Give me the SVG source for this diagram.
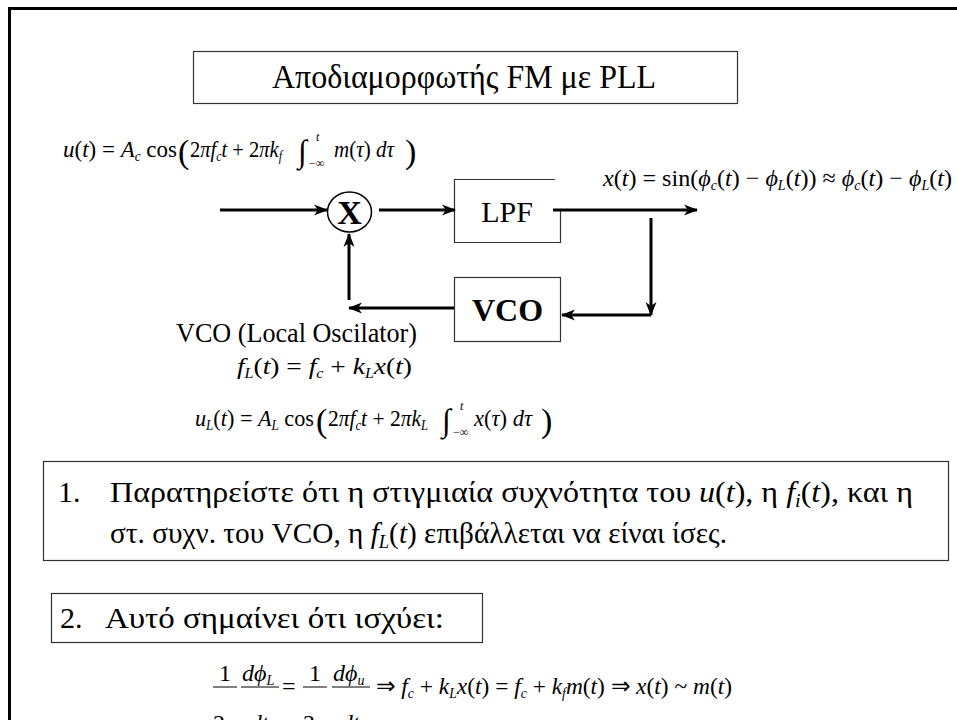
<svg xmlns="http://www.w3.org/2000/svg" width="957" height="720" viewBox="0 0 957 720">
  <defs>
    <style>
      text { font-family: "Liberation Serif", "Times New Roman", serif; fill: #000; }
      .t { font-size: 30px; }
      .m { font-size: 24px; }
      .i { font-style: italic; }
      .b { font-weight: bold; }
      .box { fill: #fff; stroke: #333; stroke-width: 1.2; }
      .wire { fill: none; stroke: #000; stroke-width: 3; }
    </style>
    <marker id="arrow" viewBox="0 0 14 12" refX="13" refY="6" markerUnits="userSpaceOnUse" markerWidth="14" markerHeight="12" orient="auto">
      <path d="M0,0.5 L14,6 L0,11.5 L4,6 Z" fill="#000"/>
    </marker>
  </defs>

  <!-- page frame -->
  <rect x="9.5" y="8.5" width="960" height="730" fill="#fff" stroke="#000" stroke-width="3"/>

  <!-- title -->
  <g id="title">
    <rect class="box" x="193.5" y="51.5" width="544" height="52"/>
    <text x="272" y="88" font-size="33" textLength="384" lengthAdjust="spacingAndGlyphs">Αποδιαμορφωτής FM με PLL</text>
  </g>

  <!-- input signal -->
  <g id="eq-input" class="m">
    <text x="63" y="157" textLength="114" lengthAdjust="spacingAndGlyphs"><tspan class="i">u</tspan>(<tspan class="i">t</tspan>) = <tspan class="i">A</tspan><tspan class="i" font-size="14" dy="4">c</tspan><tspan dy="-4"> cos</tspan></text>
    <text x="178" y="163" font-size="34">(</text>
    <text x="190" y="157" textLength="92" lengthAdjust="spacingAndGlyphs">2<tspan class="i">πf</tspan><tspan class="i" font-size="14" dy="4">c</tspan><tspan class="i" dy="-4">t</tspan> + 2<tspan class="i">πk</tspan><tspan class="i" font-size="14" dy="4">f</tspan></text>
    <text x="298" y="162" font-size="32">∫</text>
    <text x="316" y="141" font-size="12" class="i">t</text>
    <text x="309" y="167" font-size="12">−∞</text>
    <text x="334" y="157" textLength="60" lengthAdjust="spacingAndGlyphs"><tspan class="i">m</tspan>(<tspan class="i">τ</tspan>) <tspan class="i">dτ</tspan></text>
    <text x="405" y="163" font-size="34">)</text>
  </g>

  <!-- output signal -->
  <g id="eq-output" class="m">
    <text x="603" y="186" textLength="349" lengthAdjust="spacingAndGlyphs"><tspan class="i">x</tspan>(<tspan class="i">t</tspan>) = sin(<tspan class="i">ϕ</tspan><tspan class="i" font-size="14" dy="4">c</tspan><tspan dy="-4">(</tspan><tspan class="i">t</tspan>) − <tspan class="i">ϕ</tspan><tspan class="i" font-size="14" dy="4">L</tspan><tspan dy="-4">(</tspan><tspan class="i">t</tspan>)) ≈ <tspan class="i">ϕ</tspan><tspan class="i" font-size="14" dy="4">c</tspan><tspan dy="-4">(</tspan><tspan class="i">t</tspan>) − <tspan class="i">ϕ</tspan><tspan class="i" font-size="14" dy="4">L</tspan><tspan dy="-4">(</tspan><tspan class="i">t</tspan>)</text>
  </g>

  <!-- mixer -->
  <g id="mixer">
    <ellipse cx="349.5" cy="212" rx="22" ry="20" fill="#fff" stroke="#000" stroke-width="1.5"/>
    <text x="349.5" y="224" text-anchor="middle" font-size="34" class="b">X</text>
  </g>

  <!-- loop filter -->
  <g id="lpf">
    <path d="M555,179.5 H454.5 V242.5 H560.5 V209" fill="none" stroke="#333" stroke-width="1.2"/>
    <text x="507" y="222" text-anchor="middle" font-size="30">LPF</text>
  </g>

  <!-- oscillator -->
  <g id="vco">
    <rect class="box" x="454.5" y="277.5" width="106" height="64"/>
    <text x="507.5" y="321" text-anchor="middle" font-size="32" class="b">VCO</text>
  </g>

  <!-- connectors -->
  <g id="connectors" class="wire">
    <line x1="220" y1="210" x2="327" y2="210" marker-end="url(#arrow)"/>
    <line x1="379" y1="210" x2="455" y2="210" marker-end="url(#arrow)"/>
    <line x1="553" y1="210" x2="697" y2="210" marker-end="url(#arrow)"/>
    <line x1="651" y1="218" x2="651" y2="315" marker-end="url(#arrow)"/>
    <line x1="651" y1="315" x2="562" y2="315" marker-end="url(#arrow)"/>
    <line x1="454" y1="308" x2="349" y2="308" marker-end="url(#arrow)"/>
    <line x1="349" y1="300" x2="349" y2="234" marker-end="url(#arrow)"/>
  </g>

  <!-- oscillator equations -->
  <g id="vco-notes" class="m">
    <text x="176" y="342" font-size="27" textLength="241" lengthAdjust="spacingAndGlyphs">VCO (Local Oscilator)</text>
    <text x="237" y="374" textLength="175" lengthAdjust="spacingAndGlyphs"><tspan class="i">f</tspan><tspan class="i" font-size="14" dy="4">L</tspan><tspan dy="-4">(</tspan><tspan class="i">t</tspan>) = <tspan class="i">f</tspan><tspan class="i" font-size="14" dy="4">c</tspan><tspan dy="-4"> + </tspan><tspan class="i">k</tspan><tspan class="i" font-size="14" dy="4">L</tspan><tspan class="i" dy="-4">x</tspan>(<tspan class="i">t</tspan>)</text>
    <text x="195" y="426" textLength="119" lengthAdjust="spacingAndGlyphs"><tspan class="i">u</tspan><tspan class="i" font-size="14" dy="4">L</tspan><tspan dy="-4">(</tspan><tspan class="i">t</tspan>) = <tspan class="i">A</tspan><tspan class="i" font-size="14" dy="4">L</tspan><tspan dy="-4"> cos</tspan></text>
    <text x="316" y="432" font-size="34">(</text>
    <text x="328" y="426" textLength="100" lengthAdjust="spacingAndGlyphs">2<tspan class="i">πf</tspan><tspan class="i" font-size="14" dy="4">c</tspan><tspan class="i" dy="-4">t</tspan> + 2<tspan class="i">πk</tspan><tspan class="i" font-size="14" dy="4">L</tspan></text>
    <text x="442" y="431" font-size="32">∫</text>
    <text x="460" y="410" font-size="12" class="i">t</text>
    <text x="453" y="436" font-size="12">−∞</text>
    <text x="474" y="426" textLength="58" lengthAdjust="spacingAndGlyphs"><tspan class="i">x</tspan>(<tspan class="i">τ</tspan>) <tspan class="i">dτ</tspan></text>
    <text x="541" y="432" font-size="34">)</text>
  </g>

  <!-- note 1 -->
  <g id="note1">
    <rect class="box" x="43.5" y="461.5" width="905" height="99"/>
    <text class="t" x="58" y="502">1.</text>
    <text class="t" x="110" y="502" textLength="803" lengthAdjust="spacingAndGlyphs">Παρατηρείστε ότι η στιγμιαία συχνότητα του <tspan class="i">u</tspan>(<tspan class="i">t</tspan>), η <tspan class="i">f</tspan><tspan class="i" font-size="19" dy="5">i</tspan><tspan dy="-5">(</tspan><tspan class="i">t</tspan>), και η</text>
    <text class="t" x="110" y="543" textLength="617" lengthAdjust="spacingAndGlyphs">στ. συχν. του VCO, η <tspan class="i">f</tspan><tspan class="i" font-size="19" dy="5">L</tspan><tspan dy="-5">(</tspan><tspan class="i">t</tspan>) επιβάλλεται να είναι ίσες.</text>
  </g>

  <!-- note 2 -->
  <g id="note2">
    <rect class="box" x="51.5" y="593.5" width="431" height="49"/>
    <text class="t" x="60" y="628">2.</text>
    <text class="t" x="105" y="628" textLength="339" lengthAdjust="spacingAndGlyphs">Αυτό σημαίνει ότι ισχύει:</text>
  </g>

  <!-- frequency equality -->
  <g id="eq-result" class="m">
    <text x="225" y="681" text-anchor="middle">1</text>
    <line x1="213" y1="687" x2="237" y2="687" stroke="#000" stroke-width="1"/>
    <text x="225" y="731" text-anchor="middle">2<tspan class="i">π</tspan></text>
    <text x="242" y="681"><tspan class="i">dϕ</tspan><tspan class="i" font-size="14" dy="4">L</tspan></text>
    <line x1="241" y1="687" x2="279" y2="687" stroke="#000" stroke-width="1"/>
    <text x="259" y="731" text-anchor="middle" class="i">dt</text>
    <text x="282" y="694">=</text>
    <text x="315" y="681" text-anchor="middle">1</text>
    <line x1="303" y1="687" x2="327" y2="687" stroke="#000" stroke-width="1"/>
    <text x="315" y="731" text-anchor="middle">2<tspan class="i">π</tspan></text>
    <text x="333" y="681"><tspan class="i">dϕ</tspan><tspan class="i" font-size="14" dy="4">u</tspan></text>
    <line x1="332" y1="687" x2="370" y2="687" stroke="#000" stroke-width="1"/>
    <text x="350" y="731" text-anchor="middle" class="i">dt</text>
    <text x="376" y="694" textLength="356" lengthAdjust="spacingAndGlyphs">⇒ <tspan class="i">f</tspan><tspan class="i" font-size="14" dy="4">c</tspan><tspan dy="-4"> + </tspan><tspan class="i">k</tspan><tspan class="i" font-size="14" dy="4">L</tspan><tspan class="i" dy="-4">x</tspan>(<tspan class="i">t</tspan>) = <tspan class="i">f</tspan><tspan class="i" font-size="14" dy="4">c</tspan><tspan dy="-4"> + </tspan><tspan class="i">k</tspan><tspan class="i" font-size="14" dy="4">f</tspan><tspan class="i" dy="-4">m</tspan>(<tspan class="i">t</tspan>) ⇒ <tspan class="i">x</tspan>(<tspan class="i">t</tspan>) ~ <tspan class="i">m</tspan>(<tspan class="i">t</tspan>)</text>
  </g>
</svg>
